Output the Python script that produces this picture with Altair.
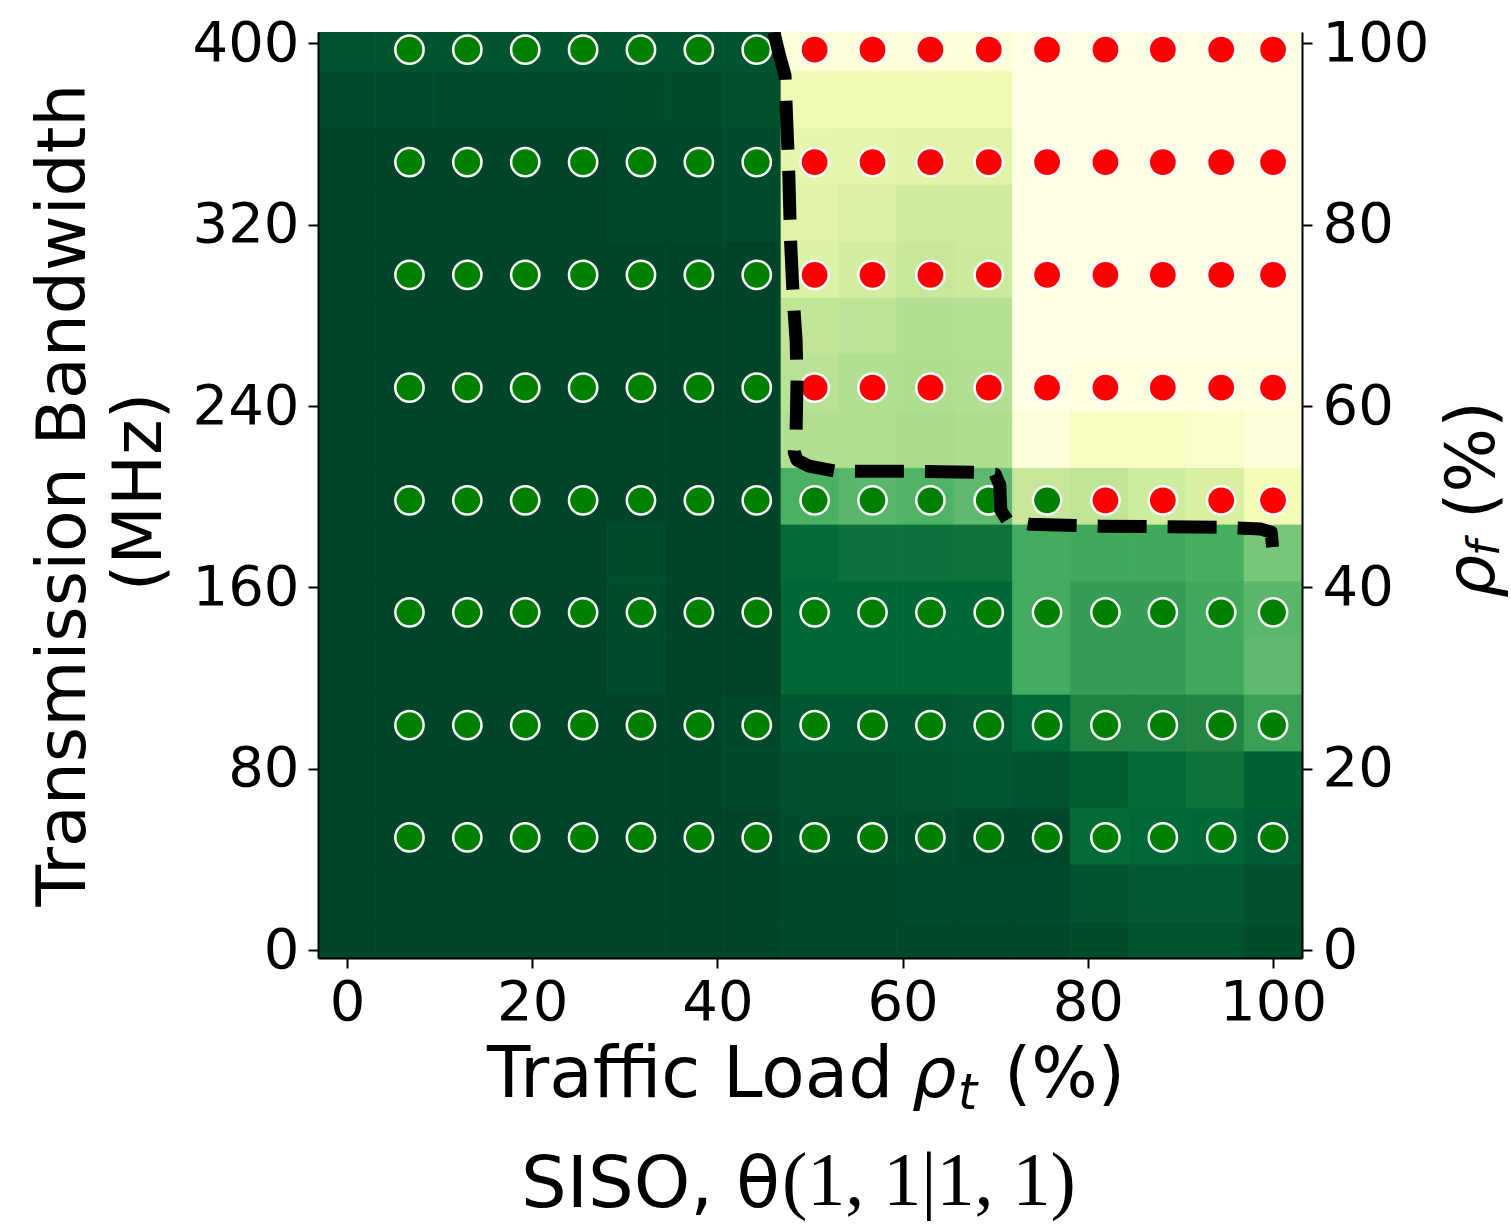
import altair as alt
import pandas as pd

# ---------------- data ----------------
# heat-map cell centres
x_centers = [0, 6.25, 12.5, 18.75, 25, 31.25, 37.5, 43.75, 50, 56.25, 62.5, 68.75,
             75, 81.25, 87.5, 93.75, 100]
y_centers = [400, 375, 350, 325, 300, 275, 250, 225, 200, 175, 150, 125, 100, 75, 50, 25, 0]

# heat-map values (0 = light yellow, 100 = dark green), rows from top (400) to bottom (0)
heat_400 = [95, 95, 95, 95, 95, 95, 95, 95, 3, 3, 3, 3, 0, 0, 0, 0, 0]
heat_375 = [98, 98, 98, 98, 98, 97, 97, 96, 16, 15, 16, 16, 0, 0, 0, 0, 0]
heat_350 = [100, 100, 100, 100, 100, 99, 99, 98, 19, 20, 21, 21, 0, 0, 0, 0, 0]
heat_325 = [100, 100, 100, 100, 100, 99, 99, 98, 22, 24, 28, 28, 0, 0, 0, 0, 0]
heat_300 = [100, 100, 100, 100, 100, 100, 100, 100, 24, 27, 30, 29, 0, 0, 0, 0, 0]
heat_275 = [100, 100, 100, 100, 100, 100, 100, 100, 32, 33, 36, 35, 0, 0, 0, 0, 0]
heat_250 = [100, 100, 100, 100, 100, 100, 100, 100, 34, 36, 37, 36, 0, 1, 1, 1, 1]
heat_225 = [100, 100, 100, 100, 100, 100, 100, 100, 36, 36, 38, 37, 3, 10, 10, 8, 4]
heat_200 = [100, 100, 100, 100, 100, 100, 100, 100, 60, 57, 59, 56, 30, 32, 28, 25, 14]
heat_175 = [100, 100, 100, 100, 100, 97, 100, 100, 86, 83, 83, 82, 62, 63, 63, 61, 50]
heat_150 = [100, 100, 100, 100, 100, 97, 100, 100, 88, 88, 88, 88, 62, 67, 67, 63, 57]
heat_125 = [100, 100, 100, 100, 100, 98, 100, 100, 88, 88, 88, 88, 62, 67, 67, 63, 56]
heat_100 = [100, 100, 100, 100, 100, 100, 100, 99, 94, 94, 94, 93, 87, 76, 76, 75, 66]
heat_075 = [100, 100, 100, 100, 100, 100, 100, 99, 96, 96, 95, 94, 95, 91, 86, 82, 90]
heat_050 = [100, 100, 100, 100, 100, 100, 100, 100, 97, 97, 97, 99, 99, 86, 87, 88, 92]
heat_025 = [100, 100, 100, 100, 100, 100, 100, 100, 99, 99, 98, 98, 98, 95, 93, 93, 96]
heat_000 = [100, 100, 100, 100, 100, 100, 100, 100, 99, 99, 99, 99, 99, 97, 95, 95, 97]
heat_rows = [heat_400, heat_375, heat_350, heat_325, heat_300, heat_275, heat_250, heat_225,
             heat_200, heat_175, heat_150, heat_125, heat_100, heat_075, heat_050, heat_025, heat_000]

# YlGn colour map stops
ylgn_colors = ["#ffffe5", "#f7fcb9", "#d9f0a3", "#addd8e", "#78c679",
               "#41ab5d", "#238443", "#006837", "#004529"]
ylgn_stops = [0, 12.5, 25, 37.5, 50, 62.5, 75, 87.5, 100]

# scatter points (positions): G = feasible, R = infeasible
pt_x = [6.75, 13.0, 19.25, 25.5, 31.75, 38.0, 44.25, 50.5, 56.75, 63.0, 69.3,
        75.6, 81.9, 88.1, 94.4, 100]
pt_y = [397.2, 347.6, 297.9, 248.1, 198.4, 149.0, 99.2, 49.7]
pt_status = ["GGGGGGGRRRRRRRRR",
             "GGGGGGGRRRRRRRRR",
             "GGGGGGGRRRRRRRRR",
             "GGGGGGGRRRRRRRRR",
             "GGGGGGGGGGGGRRRR",
             "GGGGGGGGGGGGGGGG",
             "GGGGGGGGGGGGGGGG",
             "GGGGGGGGGGGGGGGG"]

# dashed boundary line
line_x = [46.1, 46.7, 47.3, 47.4, 47.7, 47.9, 48.2, 48.5, 48.6, 48.5, 48.3, 48.6, 49.9,
          52.8, 60.2, 67.8, 70.0, 70.5, 70.6, 71.3, 73.7, 81.3, 94.2, 98.7, 99.8, 100.0, 99.2]
line_y = [404.9, 394.7, 385.9, 374.9, 344.0, 313.1, 286.7, 269.0, 251.4, 229.3, 219.6, 216.1,
          213.5, 211.2, 211.2, 210.8, 209.9, 205.1, 194.0, 189.6, 187.9, 187.0, 186.5, 185.7,
          184.3, 175.5, 173.3]

x_ticks = [0, 20, 40, 60, 80, 100]
y_ticks = [0, 80, 160, 240, 320, 400]
yr_ticks = [0, 20, 40, 60, 80, 100]

# ---------------- tables ----------------
dx = (x_centers[1] - x_centers[0]) / 2
dy = (y_centers[0] - y_centers[1]) / 2
heat_records = []
for i, yc in enumerate(y_centers):
    for j, xc in enumerate(x_centers):
        heat_records.append({"x0": xc - dx, "x1": xc + dx, "y0": yc - dy, "y1": yc + dy,
                             "v": heat_rows[i][j]})
heat_df = pd.DataFrame(heat_records)

pt_records = []
for i, yv in enumerate(pt_y):
    for j, xv in enumerate(pt_x):
        pt_records.append({"x": xv, "y": yv, "status": pt_status[i][j]})
pts_df = pd.DataFrame(pt_records)

line_df = pd.DataFrame({"x": line_x, "y": line_y, "i": list(range(len(line_x)))})

# ---------------- layout ----------------
PL, PT = 318, 32          # plot origin on the canvas
W, H = 984, 926           # plot area
CW, CH = 1511, 1224       # canvas

xs = alt.Scale(domain=[-3.125, 103.125], nice=False, zero=False)
ys = alt.Scale(domain=[-3.5, 405], nice=False, zero=False)
ys_r = alt.Scale(domain=[-3.5 / 4, 405 / 4], nice=False, zero=False)
cs = alt.Scale(domain=ylgn_stops, range=ylgn_colors, interpolate="rgb")

axis_common = dict(labelFont="DejaVu Sans", labelFontSize=56, labelColor="black",
                   tickColor="black", tickSize=10, tickWidth=2, domainColor="black",
                   domainWidth=2, grid=False, title=None, zindex=1, labelFlush=False,
                   labelOverlap=False)

heat = alt.Chart(heat_df).mark_rect(clip=True, strokeWidth=0.8).encode(
    x=alt.X("x0:Q", scale=xs, axis=alt.Axis(values=x_ticks, labelPadding=7, **axis_common)),
    x2="x1:Q",
    y=alt.Y("y0:Q", scale=ys, axis=alt.Axis(values=y_ticks, labelPadding=9, **axis_common)),
    y2="y1:Q",
    color=alt.Color("v:Q", scale=cs, legend=None),
    stroke=alt.Stroke("v:Q", scale=cs, legend=None),
)

pts = alt.Chart(pts_df).mark_circle(size=800, opacity=1, stroke="white", strokeWidth=2.5).encode(
    x=alt.X("x:Q", scale=xs),
    y=alt.Y("y:Q", scale=ys),
    color=alt.Color("status:N", scale=alt.Scale(domain=["G", "R"], range=["#008000", "#ff0000"]),
                    legend=None),
)

line = alt.Chart(line_df).mark_line(color="black", strokeWidth=13, strokeDash=[49, 21],
                                    strokeCap="butt", strokeJoin="round", clip=True).encode(
    x=alt.X("x:Q", scale=xs),
    y=alt.Y("y:Q", scale=ys),
    order="i:Q",
)

right = alt.Chart(pts_df).transform_calculate(rf="datum.y / 4").mark_point(opacity=0).encode(
    x=alt.X("x:Q", scale=xs),
    y=alt.Y("rf:Q", scale=ys_r,
            axis=alt.Axis(orient="right", values=yr_ticks, labelPadding=10, **axis_common)),
)


def label(text, cx, cy, size=68, font="DejaVu Sans", style="normal", angle=0, align="left"):
    return alt.Chart(pd.DataFrame({"t": [text]})).mark_text(
        font=font, fontSize=size, fontStyle=style, angle=angle, align=align,
        baseline="alphabetic", color="black").encode(
        text="t:N", x=alt.value(cx - PL), y=alt.value(cy - PT))


texts = [
    # x-axis title: Traffic Load rho_t (%)
    label("Traffic Load", 487, 1097, size=71),
    label("ρ", 912, 1097, size=70, style="italic"),
    label("t", 958, 1109, size=49, style="italic"),
    label("(%)", 1004, 1097, size=70),
    # bottom caption
    label("SISO, θ", 521, 1207, size=72),
    label("(1, 1|1, 1)", 782, 1205, size=76, font="Liberation Serif"),
    # left title
    label("Transmission Bandwidth", 85, 495, angle=270, align="center"),
    label("(MHz)", 161, 492, angle=270, align="center"),
    # right title: rho_f (%)
    label("ρ", 1494, 598, style="italic", angle=270),
    label("f", 1499, 556, size=44, style="italic", angle=270),
    label("(%)", 1494, 519, angle=270),
]

base = alt.layer(heat, pts, line).resolve_scale(color="independent", stroke="independent")

chart = alt.layer(base, right, *texts).resolve_scale(y="independent").properties(
    width=W, height=H,
    padding={"left": PL, "top": PT, "right": CW - PL - W, "bottom": CH - PT - H},
    autosize=alt.AutoSizeParams(type="none"),
).configure_view(stroke="black", strokeWidth=2).configure(background="white")

chart.save("out.html", embed_options={"renderer": "svg", "actions": False})
